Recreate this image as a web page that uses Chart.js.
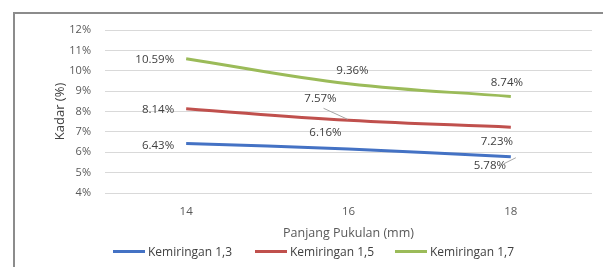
<!DOCTYPE html>
<html><head><meta charset="utf-8">
<script src="https://cdn.jsdelivr.net/npm/chart.js@4/dist/chart.umd.min.js"></script>
<style>
html,body{margin:0;padding:0;background:#fff;}
#wrap{position:absolute;left:0;top:0;width:603px;height:267px;overflow:hidden;}
#frame{position:absolute;left:13px;top:12px;width:600px;height:270px;border-left:2px solid #8c8c8c;border-top:2px solid #8c8c8c;}
canvas{position:absolute;left:0;top:0;}
#legend{position:absolute;left:0;top:244px;width:603px;height:16px;font-family:"Open Sans",sans-serif;font-size:12px;color:#404040;}
.item{position:absolute;top:0;height:16px;line-height:16px;white-space:nowrap;}
.swatch{display:inline-block;width:32px;height:3px;vertical-align:middle;margin-right:3px;position:relative;top:-1px;}
</style></head>
<body>
<div id="wrap"><div id="frame"></div><canvas id="c" width="603" height="267"></canvas><div id="legend"></div></div>
<script>
const categories = ['14', '16', '18'];
const seriesNames = ['Kemiringan 1,3', 'Kemiringan 1,5', 'Kemiringan 1,7'];
const kemiringan13 = [6.43, 6.16, 5.78];
const kemiringan15 = [8.14, 7.57, 7.23];
const kemiringan17 = [10.59, 9.36, 8.74];
const yTicks = [4, 5, 6, 7, 8, 9, 10, 11, 12];

const colors = ['#4472C4', '#C0504D', '#9BBB59'];
const legendLeft = [113, 255, 395];
// label placement per series/point: [dx, dy, align, leader]
const labelPlace = [
  [[-12, 2, 'right', null], [-23, -16, 'center', null], [-21, 9, 'center', [14, -2, 26, -8]]],
  [[-12, 1, 'right', null], [-28, -22, 'center', [3, 10, 27, 21]], [-14, 15, 'center', null]],
  [[-12, 1, 'right', null], [4, -13, 'center', null], [-4, -14, 'center', null]]
];

const labelPlugin = {
  id: 'labels',
  afterDatasetsDraw(chart) {
    const ctx = chart.ctx;
    ctx.save();
    ctx.font = '11.5px "Open Sans", sans-serif';
    ctx.fillStyle = '#404040';
    ctx.textBaseline = 'middle';
    chart.data.datasets.forEach((ds, i) => {
      const meta = chart.getDatasetMeta(i);
      meta.data.forEach((pt, j) => {
        const [dx, dy, align, leader] = labelPlace[i][j];
        const x = pt.x + dx, y = pt.y + dy;
        ctx.textAlign = align;
        ctx.fillText(ds.data[j].toFixed(2) + '%', x, y);
        if (leader) {
          ctx.strokeStyle = '#a6a6a6';
          ctx.lineWidth = 1;
          ctx.beginPath();
          ctx.moveTo(x + leader[0], y + leader[1]);
          ctx.lineTo(x + leader[2], y + leader[3]);
          ctx.stroke();
        }
      });
    });
    ctx.restore();
  }
};

const values = [kemiringan13, kemiringan15, kemiringan17];
const chart = new Chart(document.getElementById('c'), {
  type: 'line',
  data: {
    labels: categories,
    datasets: values.map((v, i) => ({
      label: seriesNames[i],
      data: v,
      borderColor: colors[i],
      backgroundColor: colors[i],
      borderWidth: 3,
      pointRadius: 0,
      tension: 0.4,
      fill: false
    }))
  },
  options: {
    responsive: false,
    animation: false,
    devicePixelRatio: 1,
    layout: { padding: { left: 52, right: 11, top: 30, bottom: 26 } },
    scales: {
      x: {
        offset: true,
        afterFit(s) { s.height = 48; },
        grid: { display: false, drawTicks: false },
        border: { display: false },
        ticks: { color: '#595959', font: { family: 'Open Sans', size: 11.5 }, padding: 12 },
        title: { display: true, text: 'Panjang Pukulan (mm)', color: '#595959', font: { family: 'Open Sans', size: 12.5 }, padding: { top: 4, bottom: 0 } }
      },
      y: {
        min: 4, max: 12,
        afterBuildTicks(s) { s.ticks = yTicks.map(v => ({ value: v })); },
        afterFit(s) { s.width = 53; },
        grid: { color: '#d9d9d9', drawTicks: false },
        border: { display: false },
        ticks: { color: '#595959', font: { family: 'Open Sans', size: 11 }, padding: 14, callback: v => v + '%' },
        title: { display: true, text: 'Kadar (%)', color: '#404040', font: { family: 'Open Sans', size: 13 }, padding: 0 }
      }
    },
    plugins: {
      legend: { display: false },
      tooltip: { enabled: false }
    }
  },
  plugins: [labelPlugin]
});

const legendEl = document.getElementById('legend');
chart.data.datasets.forEach((ds, i) => {
  const item = document.createElement('div');
  item.className = 'item';
  item.style.left = legendLeft[i] + 'px';
  const sw = document.createElement('span');
  sw.className = 'swatch';
  sw.style.background = ds.borderColor;
  item.appendChild(sw);
  item.appendChild(document.createTextNode(ds.label));
  legendEl.appendChild(item);
});
</script>
</body></html>
